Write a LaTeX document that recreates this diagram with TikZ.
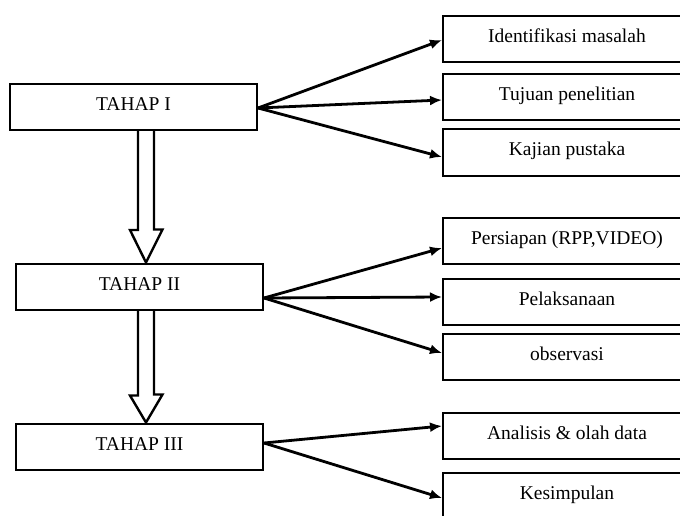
\documentclass[tikz,border=0pt]{standalone}
\usepackage{fontspec}
\setmainfont{Liberation Serif}
\usetikzlibrary{arrows.meta}

\begin{document}
\begin{tikzpicture}[x=1pt,y=-1pt,
    tahap/.style={draw, line width=2pt, minimum width=247pt, minimum height=46pt, inner sep=0pt,
      text height=13pt, text depth=6pt, font=\fontsize{19.5}{22}\selectfont},
    isi/.style={tahap, minimum width=248pt},
    fan/.style={line width=2.8pt, -{Latex[length=12pt,width=10pt]}},
    hollow/.style={line width=2.4pt, line join=miter}]
    \useasboundingbox (0,0) rectangle (680,516);
    \node[tahap] at (133.5,107) (t1) {TAHAP I};
    \node[tahap] at (139.5,286.5) (t2) {TAHAP II};
    \node[tahap] at (139.5,446.5) (t3) {TAHAP III};
    \node[isi] at (567,39.5) (r1) {Identifikasi masalah};
    \node[isi] at (567,97.5) (r2) {Tujuan penelitian};
    \node[isi] at (567,152.5) (r3) {Kajian pustaka};
    \node[isi] at (567,241) (r4) {Persiapan (RPP,VIDEO)};
    \node[isi] at (567,301.5) (r5) {Pelaksanaan};
    \node[isi] at (567,356.5) (r6) {observasi};
    \node[isi] at (567,435.5) (r7) {Analisis \& olah data};
    \node[isi] at (567,496) (r8) {Kesimpulan};
    \path[fan]
    ([yshift=-1pt]t1.east) edge ([yshift=-0.5pt]r1.west)
    ([yshift=-1pt]t1.east) edge ([yshift=-2.5pt]r2.west)
    ([yshift=-1pt]t1.east) edge ([yshift=-4.5pt]r3.west)
    ([yshift=-11.5pt]t2.east) edge ([yshift=-7pt]r4.west)
    ([yshift=-11.5pt]t2.east) edge ([yshift=4.5pt]r5.west)
    ([yshift=-11.5pt]t2.east) edge ([yshift=3.5pt]r6.west)
    ([yshift=3.5pt]t3.east) edge ([yshift=9.5pt]r7.west)
    ([yshift=3.5pt]t3.east) edge ([yshift=-2pt]r8.west);
    \draw[hollow] ([xshift=4.5pt]t1.south) -- ++(0,99) -- ++(-8,0) -- ([xshift=6.5pt]t2.north)
      -- ++(16.5,-33) -- ++(-8.5,0) -- ([xshift=20.5pt]t1.south);
    \draw[hollow] ([xshift=-1.5pt]t2.south) -- ++(0,85) -- ++(-8,0) -- ([xshift=6.5pt]t3.north)
      -- ++(16.5,-28) -- ++(-8.5,0) -- ([xshift=14.5pt]t2.south);
\end{tikzpicture}
\end{document}
